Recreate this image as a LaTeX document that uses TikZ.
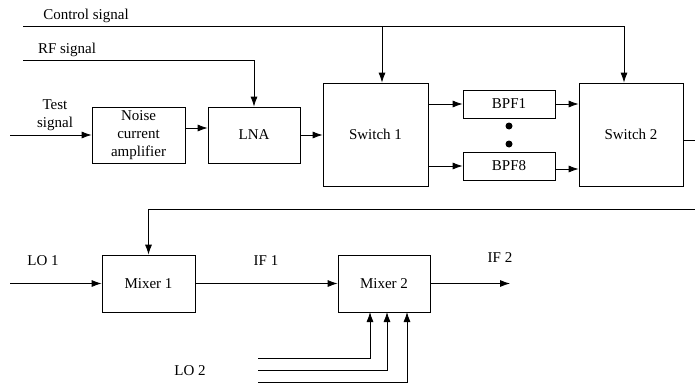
\documentclass[tikz,border=0pt]{standalone}
\usepackage{fontspec}
\setmainfont{Liberation Serif}
\usetikzlibrary{arrows.meta}
\begin{document}
\begin{tikzpicture}[
    x=1pt, y=-1pt,
    font=\fontsize{15}{18}\selectfont,
    >={Latex[length=10pt,width=7pt]},
    every path/.style={line width=0.8pt},
    block/.style={draw=black, inner sep=0pt, align=center},
    dot/.style={circle, fill=black, inner sep=0pt, minimum size=7pt}
]
    \useasboundingbox (0,0) rectangle (695,383);

    % blocks
    \node[block, minimum width=93pt, minimum height=56pt] at (138.5,135) (nca) {Noise\\current\\amplifier};
    \node[block, minimum width=92pt, minimum height=56pt] at (254,135) (lna) {LNA};
    \node[block, minimum width=105pt, minimum height=103pt] at (375.5,134.5) (sw1) {Switch 1};
    \node[block, minimum width=92pt, minimum height=28pt] at (509,104) (bpf1) {BPF1};
    \node[block, minimum width=92pt, minimum height=28pt] at (509,166) (bpf8) {BPF8};
    \node[block, minimum width=104pt, minimum height=103pt] at (631,134.5) (sw2) {Switch 2};
    \node[block, minimum width=93pt, minimum height=57pt] at (148.5,283.5) (mix1) {Mixer 1};
    \node[block, minimum width=92pt, minimum height=57pt] at (384,283.5) (mix2) {Mixer 2};

    \node[dot] at (509,126) (d1) {};
    \node[dot] at (509,144) (d2) {};

    % free ends
    \coordinate (ctl) at (23,26);
    \coordinate (ctl1) at (382,26);
    \coordinate (ctl2) at (624,26);
    \coordinate (rf) at (23,60);
    \coordinate (rf1) at (254,60);
    \coordinate (test) at (10,135);
    \coordinate (out) at (695,140);
    \coordinate (fb) at (695,209);
    \coordinate (fb1) at (148.5,209);
    \coordinate (lo1) at (10,283.5);
    \coordinate (if2) at (510,283.5);
    \coordinate (loa) at (258,358);
    \coordinate (lob) at (258,370);
    \coordinate (loc) at (258,382);

    % upper chain
    \draw[->] (test) -- (nca);
    \draw[->] ([yshift=7pt]nca.east) -- ([yshift=7pt]lna.west);
    \draw[->] (lna) -- (sw1.west |- lna.east);
    \draw[->] (sw1.east |- bpf1.west) -- (bpf1);
    \draw[->] (sw1.east |- bpf8.west) -- (bpf8);
    \draw[->] (bpf1) -- (sw2.west |- bpf1.east);
    \draw[->] ([yshift=-3pt]bpf8.east) -- (sw2.west |- 0,169);
    \draw (sw2.east |- out) -- (out);

    % control and RF
    \draw[->] (ctl) -- (ctl2) -- (ctl2 |- sw2.north);
    \draw[->] (ctl1) -- (ctl1 |- sw1.north);
    \draw[->] (rf) -- (rf1) -- (lna);

    % lower chain
    \draw[->] (fb) -- (fb1) -- (mix1);
    \draw[->] (lo1) -- (mix1);
    \draw[->] (mix1) -- (mix2);
    \draw[->] (mix2) -- (if2);
    \draw[->] (loa) -| (370,312);
    \draw[->] (lob) -| (387,312);
    \draw[->] (loc) -| (407,312);

    % labels
    \node at (86,16) (lctl) {Control signal};
    \node at (67,50) (lrf) {RF signal};
    \node[align=center] at (55,115) (ltest) {Test\\signal};
    \node at (43,261) (llo1) {LO 1};
    \node at (266,261) (lif1) {IF 1};
    \node at (500,258) (lif2) {IF 2};
    \node at (190,371) (llo2) {LO 2};
\end{tikzpicture}
\end{document}
